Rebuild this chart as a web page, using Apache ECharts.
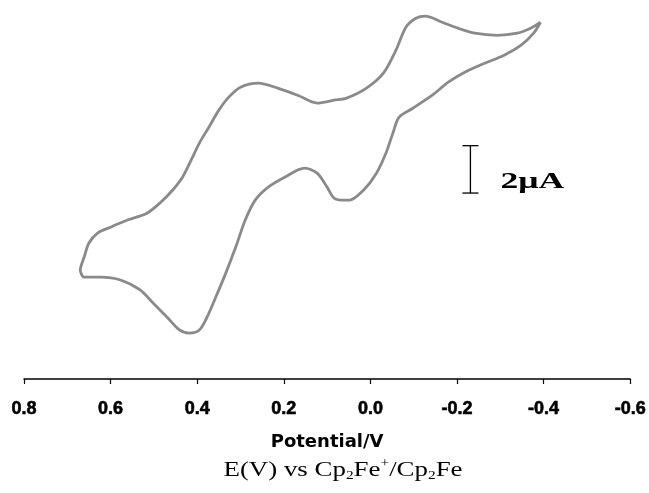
<!DOCTYPE html>
<html>
<head>
<meta charset="utf-8">
<script src="https://cdn.jsdelivr.net/npm/echarts@6/dist/echarts.min.js"></script>
<style>
  html, body { margin: 0; padding: 0; background: #fff; }
  #cv { width: 649px; height: 493px; }
</style>
</head>
<body>
<div id="cv"></div>
<script>
// potential (V) and current (uA)
// upper branch, from the -0.4 V end going left
var upperV = [-0.393, -0.370, -0.339, -0.293, -0.241, -0.202, -0.166, -0.127, -0.105, -0.082,
  -0.059, -0.030, 0.009, 0.055, 0.084, 0.123, 0.168, 0.214, 0.259, 0.300,
  0.327, 0.350, 0.373, 0.395, 0.414, 0.434, 0.457, 0.486, 0.516, 0.561,
  0.600, 0.630, 0.650, 0.661, 0.670, 0.661];
var upperI = [15.06, 14.81, 14.60, 14.51, 14.60, 14.81, 15.06, 15.32, 15.23, 14.85,
  13.88, 12.91, 12.28, 11.86, 11.77, 11.65, 11.98, 12.28, 12.49, 12.32,
  11.90, 11.35, 10.63, 9.96, 9.24, 8.52, 7.97, 7.43, 7.00, 6.71,
  6.41, 6.16, 5.74, 5.15, 4.60, 4.30];
// lower branch, from the +0.67 V end going right
var lowerV = [0.623, 0.577, 0.532, 0.502, 0.470, 0.441, 0.418, 0.395, 0.377, 0.357,
  0.334, 0.311, 0.289, 0.266, 0.236, 0.198, 0.152, 0.123, 0.100, 0.084,
  0.061, 0.048, 0.016, -0.014, -0.036, -0.052, -0.066, -0.098, -0.143, -0.180,
  -0.218, -0.264, -0.309, -0.348, -0.377, -0.393];
var lowerI = [4.30, 4.18, 3.76, 3.21, 2.62, 2.07, 1.94, 2.07, 2.62, 3.46,
  4.47, 5.57, 6.71, 7.55, 8.10, 8.52, 8.90, 8.69, 8.10, 7.64,
  7.55, 7.55, 7.97, 8.69, 9.54, 10.38, 11.05, 11.43, 11.98, 12.53,
  12.95, 13.33, 13.67, 14.09, 14.60, 15.06];

// scale bar: potential, bottom current, top current
var scaleBar = [[-0.231, 7.85, 9.85]];
var scaleLabel = ['2μA'];

var loop = [];
upperV.forEach(function (v, i) { loop.push([v, upperI[i]]); });
lowerV.forEach(function (v, i) { loop.push([v, lowerI[i]]); });

var chart = echarts.init(document.getElementById('cv'));
chart.setOption({
  animation: false,
  grid: { left: 24, right: 11, top: 0, bottom: 114 },
  xAxis: {
    type: 'value',
    inverse: true,
    min: -0.6,
    max: 0.8,
    interval: 0.2,
    name: 'Potential/V',
    nameLocation: 'middle',
    nameGap: 54,
    nameTextStyle: {
      color: '#000',
      fontFamily: 'DejaVu Sans',
      fontWeight: 'bold',
      fontSize: 18
    },
    axisLine: { lineStyle: { color: '#000', width: 1.5 } },
    axisTick: { length: 5, lineStyle: { color: '#000', width: 1.2 } },
    axisLabel: {
      margin: 21,
      color: '#000',
      fontFamily: 'Liberation Sans',
      fontWeight: 'bold',
      fontSize: 18,
      textBorderColor: '#000',
      textBorderWidth: 0.6,
      showMinLabel: true,
      showMaxLabel: true,
      formatter: function (v) { return v.toFixed(1); }
    },
    splitLine: { show: false }
  },
  yAxis: {
    type: 'value',
    min: 0,
    max: 16,
    show: false
  },
  graphic: [
    {
      type: 'text',
      x: 343,
      y: 458,
      scaleX: 1.28,
      style: {
        text: '{n|E(V) vs Cp}{s|2}{n|Fe}{p|+}{n|/Cp}{s|2}{n|Fe}',
        align: 'center',
        fill: '#000',
        rich: {
          n: { fontFamily: 'Liberation Serif', fontSize: 21, lineHeight: 24, verticalAlign: 'middle' },
          s: { fontFamily: 'Liberation Serif', fontSize: 12, lineHeight: 12, verticalAlign: 'bottom' },
          p: { fontFamily: 'Liberation Serif', fontSize: 12, lineHeight: 12, verticalAlign: 'top' }
        }
      }
    }
  ],
  series: [
    {
      type: 'line',
      data: loop,
      showSymbol: false,
      smooth: 0.3,
      lineStyle: { color: '#8a8a8a', width: 2.8 },
      silent: true
    },
    {
      type: 'custom',
      silent: true,
      data: scaleBar,
      renderItem: function (params, api) {
        var b = api.coord([api.value(0), api.value(1)]);
        var t = api.coord([api.value(0), api.value(2)]);
        var st = { stroke: '#000', lineWidth: 1.3 };
        return {
          type: 'group',
          children: [
            { type: 'line', shape: { x1: b[0], y1: b[1], x2: t[0], y2: t[1] }, style: st },
            { type: 'line', shape: { x1: b[0] - 8, y1: b[1], x2: b[0] + 8, y2: b[1] }, style: st },
            { type: 'line', shape: { x1: t[0] - 8, y1: t[1], x2: t[0] + 8, y2: t[1] }, style: st },
            {
              type: 'text',
              x: b[0] + 30,
              y: (b[1] + t[1]) / 2 + 13,
              scaleX: 1.55,
              style: {
                text: scaleLabel[params.dataIndex],
                fill: '#000',
                font: 'bold 23px "Liberation Serif"',
                align: 'left',
                verticalAlign: 'middle'
              }
            }
          ]
        };
      }
    }
  ]
});
</script>
</body>
</html>
